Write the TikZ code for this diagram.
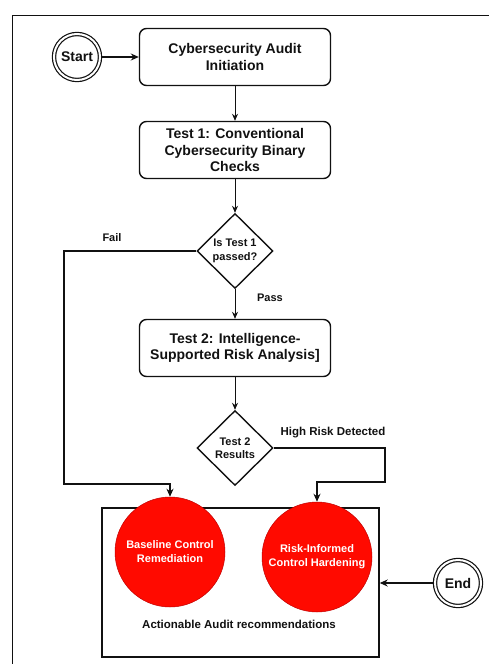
\documentclass[tikz,border=0pt]{standalone}
\usepackage{fontspec}
\setmainfont{Liberation Sans}
\usetikzlibrary{shapes.geometric,arrows.meta}
\definecolor{inkdark}{HTML}{111111}
\definecolor{alarm}{HTML}{FF0A00}
\definecolor{alarmedge}{HTML}{C00000}
\begin{document}
\begin{tikzpicture}[x=1pt,y=-1pt,
  every node/.style={font=\bfseries, text=inkdark, align=center},
  procbox/.style={draw=inkdark, line width=1.4pt, rounded corners=7pt,
    minimum width=191pt, minimum height=57pt, font=\fontsize{14}{16.5}\bfseries},
  decision/.style={draw=inkdark, line width=1.4pt, diamond, inner sep=0pt,
    minimum width=76pt, minimum height=75pt, font=\fontsize{11}{13.5}\bfseries},
  terminal/.style={draw=inkdark, line width=1.2pt, circle, double, double distance=2pt,
    minimum size=46pt, inner sep=0pt, font=\fontsize{14}{16}\bfseries},
  outcome/.style={circle, fill=alarm, draw=alarmedge, line width=0.5pt,
    minimum size=110pt, inner sep=0pt, text=white, font=\fontsize{11}{14}\bfseries},
  tag/.style={font=\fontsize{11}{13}\bfseries},
  flow/.style={draw=inkdark, line width=1.4pt, -{Stealth[length=8pt,width=7pt]}},
  thinflow/.style={draw=inkdark, line width=0.8pt, -{Stealth[length=7pt,width=6pt]}}]
\useasboundingbox (0,0) rectangle (489,664);
% outer frame, running past the page edges
\draw[inkdark, line width=1.8pt] (12.5,15.5) rectangle (520,700);

% main column
\node[terminal] (start) at (77,57) {Start};
\node[procbox] (init) at (235,57) {Cybersecurity Audit\\Initiation};
\node[procbox] (t1) at (235,150) {Test 1: Conventional\\Cybersecurity Binary\\Checks};
\node[decision] (d1) at (235,251) {Is Test 1\\passed?};
\node[procbox] (t2) at (235,348) {Test 2: Intelligence-\\Supported Risk Analysis]};
\node[decision] (d2) at (235,448) {Test 2\\Results};

% recommendations group
\node[draw=inkdark, line width=1.4pt, minimum width=277pt, minimum height=149pt] (grp) at (240.5,582.5) {};
\node[outcome] (c1) at (170,552) {Baseline Control\\Remediation};
\node[outcome] (c2) at (317,557) {Risk-Informed\\Control Hardening};
\node[tag, font=\fontsize{11.5}{13}\bfseries] (grplabel) at (239,624) {Actionable Audit recommendations};
\node[terminal] (end) at (458,583) {End};

% connectors
\draw[flow] (start) -- (init);
\draw[thinflow] (init) -- (t1);
\draw[thinflow] (t1) -- (d1);
\draw[thinflow] (d1) -- (t2);
\draw[thinflow] (t2) -- (d2);

\coordinate (failbend) at (64,484);
\draw[flow] (d1.west) -| (failbend) -| (c1.north);
\node[tag] (fail) at (112,238) {Fail};
\node[tag] (pass) at (270,298) {Pass};

\coordinate (riskbend) at (385,482);
\draw[flow] (d2.east) -| (riskbend) -| (c2.north);
\node[tag, font=\fontsize{11.5}{13}\bfseries] (risk) at (333,433) {High Risk Detected};

\draw[flow] (end.west) -- (grp.east |- end.west);
\end{tikzpicture}
\end{document}
